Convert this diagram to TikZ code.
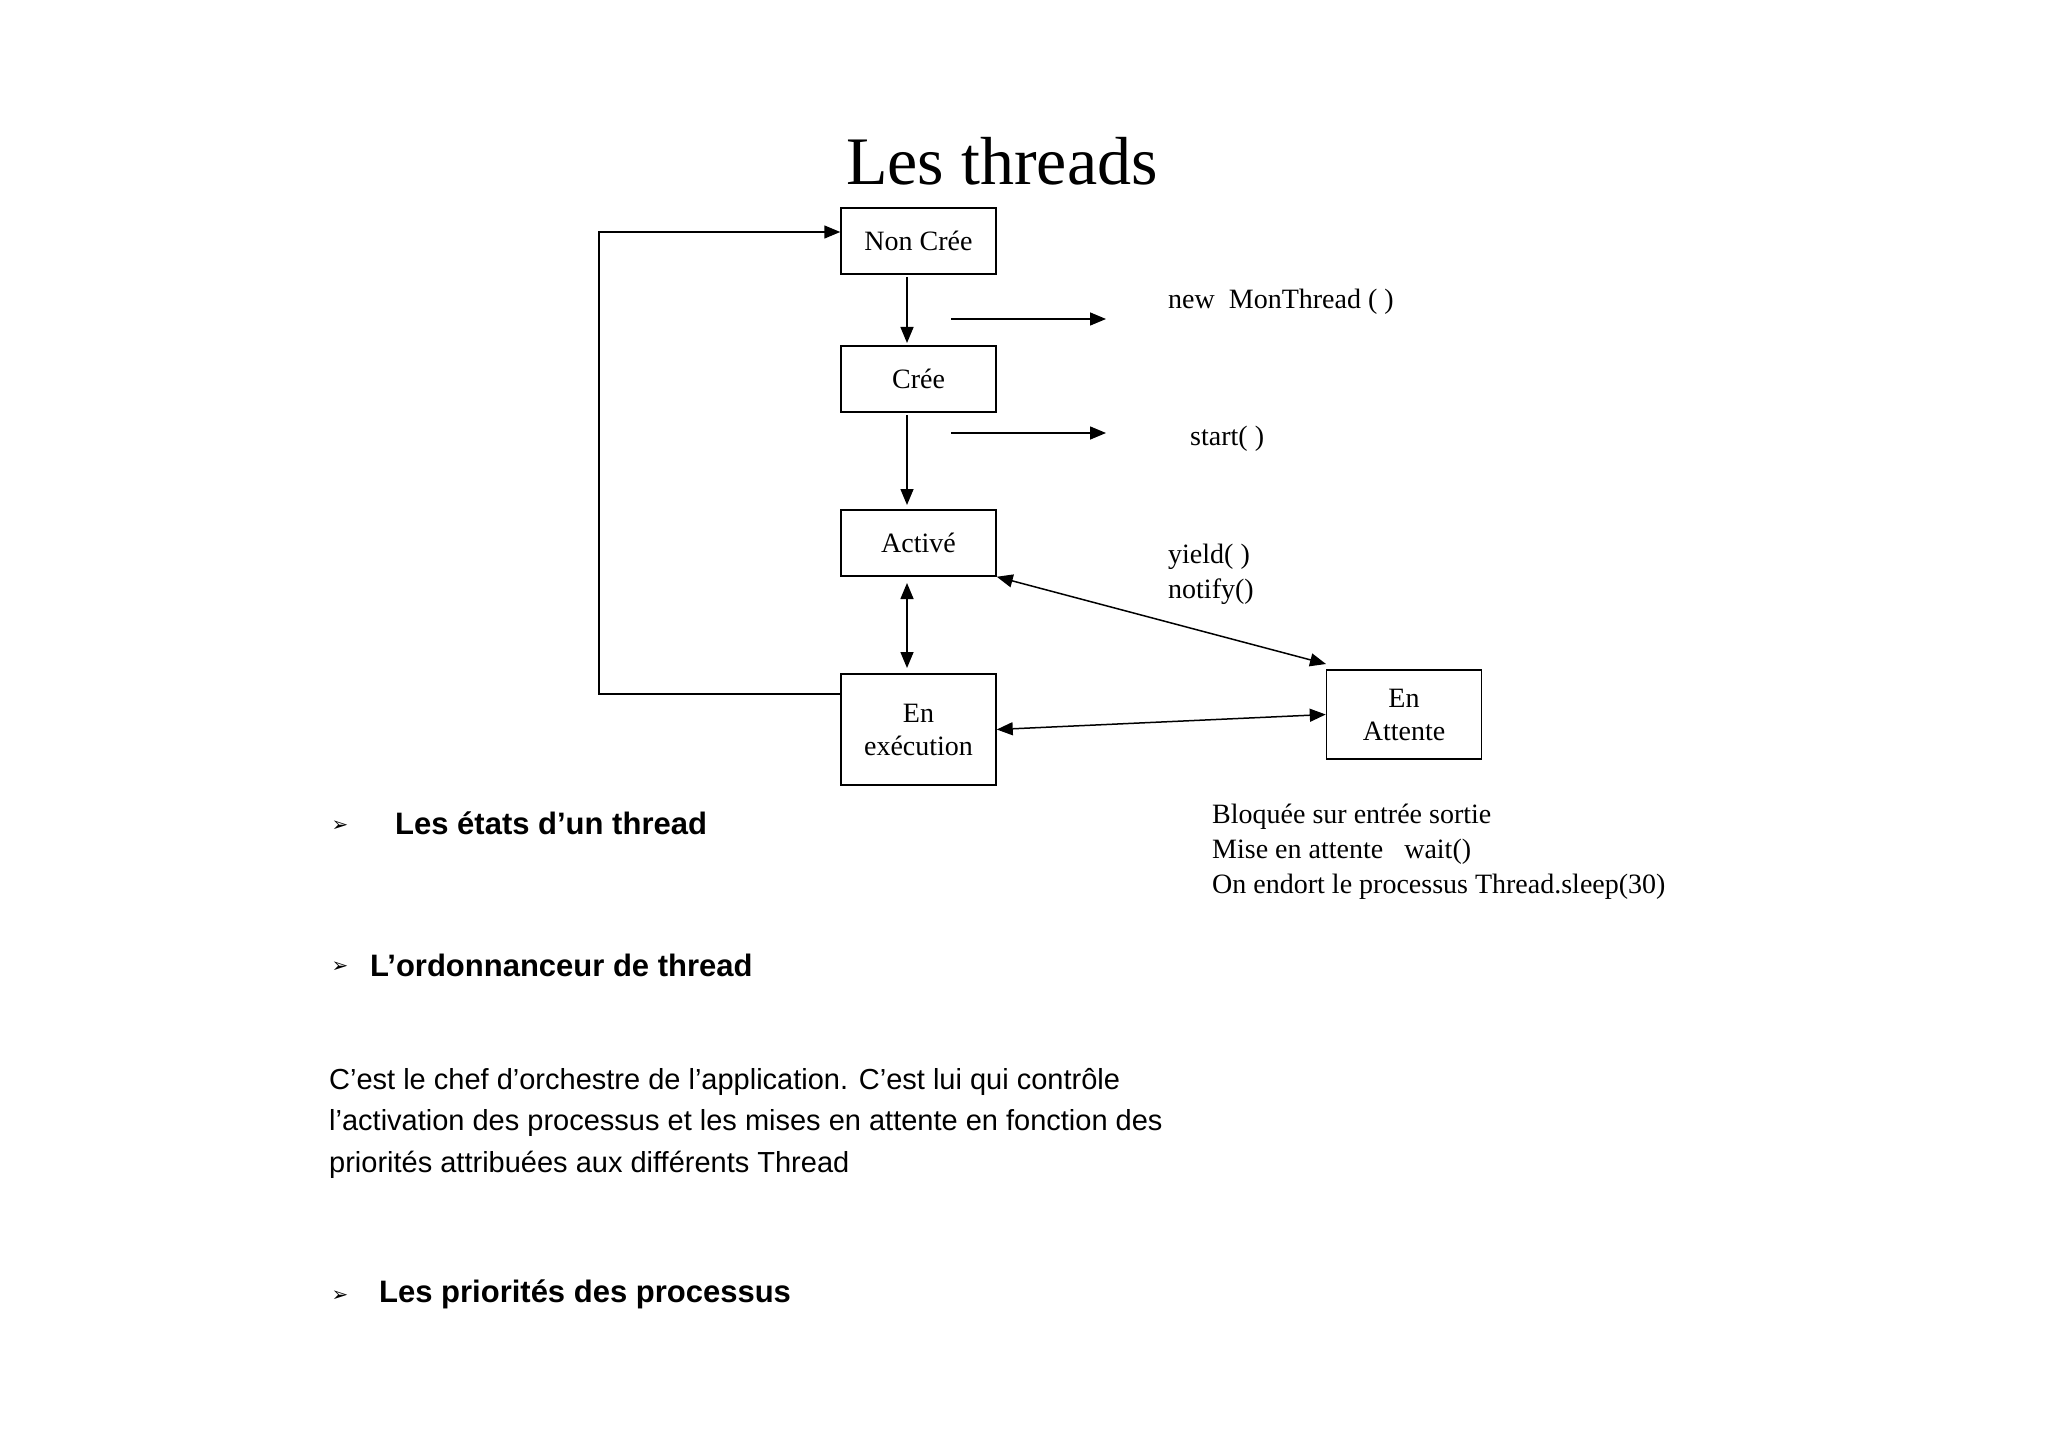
\documentclass[tikz,border=0pt]{standalone}
\usepackage{fontspec}
\setmainfont{Liberation Serif}
\newfontfamily\arialf{Liberation Sans}
\newfontfamily\dejav{DejaVu Sans}
\usetikzlibrary{arrows.meta}
\tikzset{
 box/.style={draw,line width=1.5pt,minimum width=155pt,inner sep=0pt,align=center,font=\fontsize{28}{33}\selectfont},
 conn/.style={line width=1.5pt,-{Triangle[length=16pt,width=13pt]}},
 dconn/.style={line width=1.5pt,{Triangle[length=16pt,width=13pt]}-{Triangle[length=16pt,width=13pt]}},
 lbl/.style={anchor=west,inner sep=0pt,font=\fontsize{28}{35}\selectfont,align=left},
 head/.style={anchor=west,inner sep=0pt,font=\arialf\bfseries\fontsize{31}{36}\selectfont},
 bul/.style={inner sep=0pt,font=\dejav\fontsize{20}{20}\selectfont},
}
\begin{document}
\begin{tikzpicture}[x=1pt,y=-1pt]
\useasboundingbox (0,0) rectangle (2048,1447);
\node[font=\fontsize{68}{70}\selectfont] (title) at (1002,161) {Les threads};
\node[box,minimum height=66pt] (nc) at (918.5,241) {Non Crée};
\node[box,minimum height=66pt] (cr) at (918.5,379) {Crée};
\node[box,minimum height=66pt] (ac) at (918.5,543) {Activé};
\node[box,minimum height=111pt] (ex) at (918.5,729.5) {En\\exécution};
\node[box,minimum height=89pt] (at) at (1404,714.5) {En\\Attente};
\coordinate (fb1) at (599,694);
\coordinate (fb2) at (599,232);
\draw[conn] (ex.west |- fb1) -- (fb1) -- (fb2) -- (nc.west |- fb2);
\draw[conn] (907,277) -- (907,343);
\draw[conn] (907,415) -- (907,505);
\draw[dconn] (907,583) -- (907,668);
\coordinate (a1) at (951,319); \coordinate (a2) at (1106,319);
\coordinate (b1) at (951,433); \coordinate (b2) at (1106,433);
\draw[conn] (a1) -- (a2);
\draw[conn] (b1) -- (b2);
\draw[dconn] (ac.south east) -- (1326,664);
\draw[dconn] (ex.east) -- (at.west);
\node[lbl] (l1) at (1168,302) {new\ \ MonThread ( )};
\node[lbl] (l2) at (1190,439) {start( )};
\node[lbl] (l3) at (1168,574) {yield( )\\notify()};
\node[lbl] (l4) at (1212,852) {Bloquée sur entrée sortie\\Mise en attente\ \ \ wait()\\On endort le processus Thread.sleep(30)};
\node[bul] (b1n) at (340,826) {➢};
\node[head] (h1) at (395,823) {Les états d’un thread};
\node[bul] (b2n) at (340,967) {➢};
\node[head] (h2) at (370,965) {L’ordonnanceur de thread};
\node[anchor=west,inner sep=0pt,align=left,font=\arialf\fontsize{29}{41.5}\selectfont] (par) at (329,1123) {C’est le chef d’orchestre de l’application. C’est lui qui contrôle\\l’activation des processus et les mises en attente en fonction des\\priorités attribuées aux différents Thread};
\node[bul] (b3n) at (340,1296) {➢};
\node[head] (h3) at (379,1294) {Les priorités des processus};
\end{tikzpicture}
\end{document}
